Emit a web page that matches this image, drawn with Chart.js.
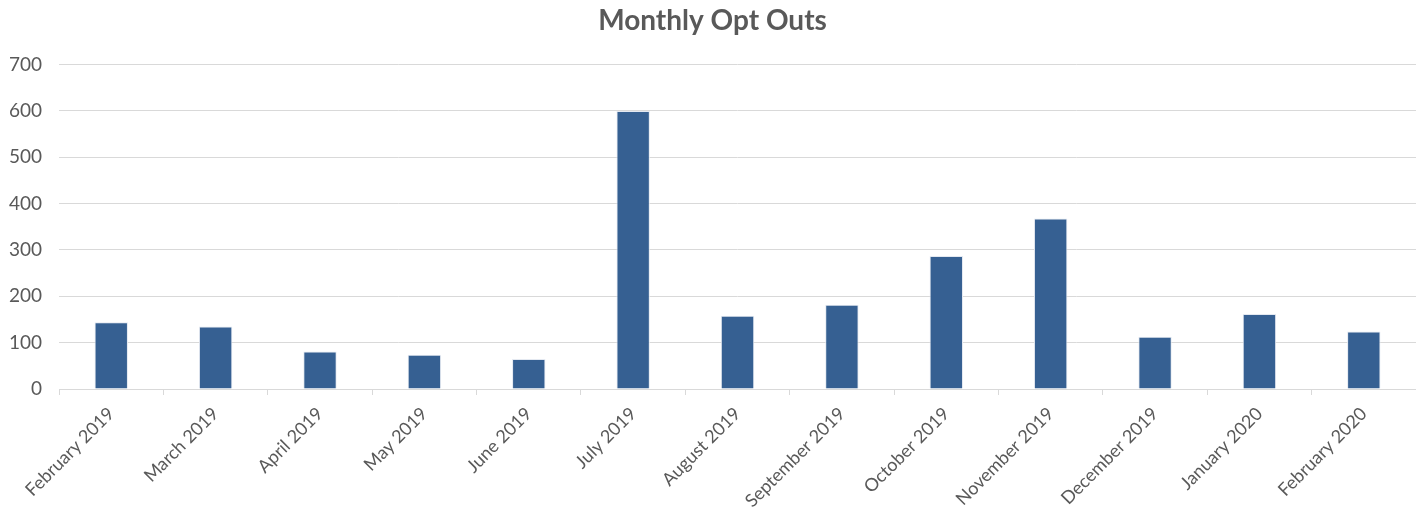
<!DOCTYPE html>
<html>
<head>
<meta charset="utf-8">
<title>Monthly Opt Outs</title>
<script src="https://cdn.jsdelivr.net/npm/chart.js@4/dist/chart.umd.min.js"></script>
<style>
  html, body { margin: 0; padding: 0; background: #ffffff; }
  #box { width: 1416px; height: 509px; }
</style>
</head>
<body>
<div id="box"><canvas id="optouts" width="1416" height="509"></canvas></div>
<script>
// valores
var labels = ['February 2019','March 2019','April 2019','May 2019','June 2019','July 2019',
  'August 2019','September 2019','October 2019','November 2019','December 2019','January 2020','February 2020']
var optOuts = [144, 135, 81, 74, 65, 600, 158, 182, 287, 368, 113, 162, 124]
var yTicks = [0, 100, 200, 300, 400, 500, 600, 700]

Chart.defaults.font.family = 'Lato, "Open Sans", sans-serif';
Chart.defaults.color = '#595959';

var ctx = document.getElementById('optouts').getContext('2d');
var chart = new Chart(ctx, {
  type: 'bar',
  data: {
    labels: labels,
    datasets: [{
      label: 'Opt Outs',
      data: optOuts,
      backgroundColor: '#366092',
      borderColor: '#e4e9f1',
      borderWidth: 1,
      categoryPercentage: 1,
      barPercentage: 0.32
    }]
  },
  options: {
    responsive: false,
    animation: false,
    layout: { padding: { left: 9, right: 0, top: 2, bottom: 0 } },
    scales: {
      x: {
        offset: true,
        afterFit: function (scale) { scale.paddingLeft = 0; scale.height = 120 },
        grid: { offset: true, drawOnChartArea: false, drawTicks: true, tickLength: 6, color: '#d9d9d9' },
        border: { display: true, color: '#d9d9d9' },
        ticks: { minRotation: 45, maxRotation: 45, autoSkip: false, font: { size: 18 }, color: '#595959', padding: 8 }
      },
      y: {
        min: 0,
        max: 700,
        afterBuildTicks: function (axis) { axis.ticks = yTicks.map(function (v) { return { value: v } }) },
        // o chart.js conta o padding dos ticks duas vezes
        afterFit: function (scale) { scale.width = scale.width - 17 },
        grid: { color: '#d9d9d9', drawTicks: false },
        border: { display: false },
        ticks: { font: { size: 19 }, color: '#595959', padding: 17 }
      }
    },
    plugins: {
      legend: { display: false },
      tooltip: { enabled: false },
      title: {
        display: true,
        text: 'Monthly Opt Outs',
        color: '#595959',
        font: { size: 28, weight: 'bold' },
        padding: { top: 2, bottom: 27 }
      }
    }
  }
});
</script>
</body>
</html>
